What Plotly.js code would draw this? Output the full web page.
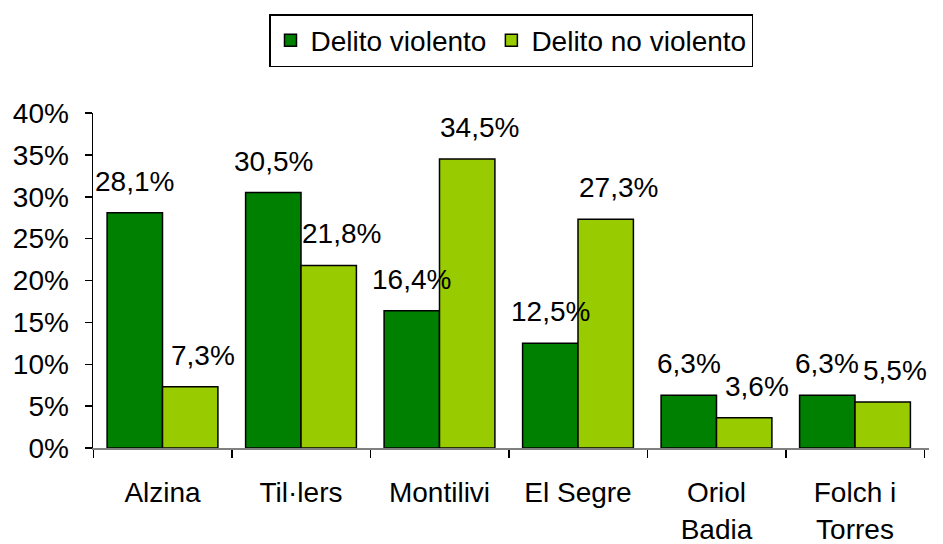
<!DOCTYPE html>
<html>
<head>
<meta charset="utf-8">
<script src="https://cdn.plot.ly/plotly-3.0.1.min.js"></script>
<style>html,body{margin:0;padding:0;background:#fff;}#chart{width:943px;height:544px;}</style>
</head>
<body>
<div id="chart"></div>
<script>
const categories = ['Alzina', 'Til·lers', 'Montilivi', 'El Segre', 'Oriol<br>Badia', 'Folch i<br>Torres'];
const violento = [0.281, 0.305, 0.164, 0.125, 0.063, 0.063];
const noViolento = [0.073, 0.218, 0.345, 0.273, 0.036, 0.055];
const seriesNames = ['Delito violento', 'Delito no violento'];
const yTicks = [0, 0.05, 0.10, 0.15, 0.20, 0.25, 0.30, 0.35, 0.40];

const FONT = 'Liberation Sans, Arial, sans-serif';
const colors = ['#008000', '#99CC00'];

const traces = [violento, noViolento].map((vals, i) => ({
  type: 'bar',
  name: seriesNames[i],
  x: categories,
  y: vals,
  marker: { color: colors[i], line: { color: '#000', width: 1.5 } },
  hoverinfo: 'skip'
}));

const fmt = v => (v * 100).toFixed(1).replace('.', ',') + '%';
const annotations = [];
[violento, noViolento].forEach((vals, i) => {
  vals.forEach((v, j) => {
    annotations.push({
      x: categories[j], y: v, xref: 'x', yref: 'y',
      text: fmt(v), showarrow: false,
      xanchor: 'center', yanchor: 'bottom',
      xshift: i === 0 ? -28 : 40, yshift: 14,
      font: { family: FONT, size: 28, color: '#000' }
    });
  });
});

const layout = {
  width: 943, height: 544,
  margin: { l: 93, r: 14, t: 113, b: 96 },
  paper_bgcolor: '#fff', plot_bgcolor: '#fff',
  separators: ',.',
  font: { family: FONT, size: 28, color: '#000' },
  barmode: 'group', bargap: 0.2, bargroupgap: 0,
  showlegend: true,
  legend: {
    orientation: 'h', x: 0.5, xanchor: 'center', y: 1.2955, yanchor: 'top',
    bordercolor: '#000', borderwidth: 1.5, bgcolor: '#fff',
    font: { family: FONT, size: 28, color: '#000' },
    traceorder: 'normal'
  },
  xaxis: {
    type: 'category', showline: true, linecolor: '#808080', linewidth: 1.5,
    ticks: 'outside', tickson: 'boundaries', ticklen: 8, tickcolor: '#000', tickwidth: 1.5,
    showgrid: false, zeroline: false,
    tickfont: { family: FONT, size: 28, color: '#000' },
    ticklabelstandoff: 19
  },
  yaxis: {
    range: [0, 0.4], tickvals: yTicks, tickformat: '.0%',
    showline: true, linecolor: '#000', linewidth: 1.5,
    ticks: 'outside', ticklen: 7, tickcolor: '#000', tickwidth: 1.5,
    showgrid: false, zeroline: false,
    tickfont: { family: FONT, size: 28, color: '#000' },
    ticklabelstandoff: 10
  },
  annotations: annotations
};

Plotly.newPlot('chart', traces, layout, { staticPlot: true, displayModeBar: false });
</script>
</body>
</html>
